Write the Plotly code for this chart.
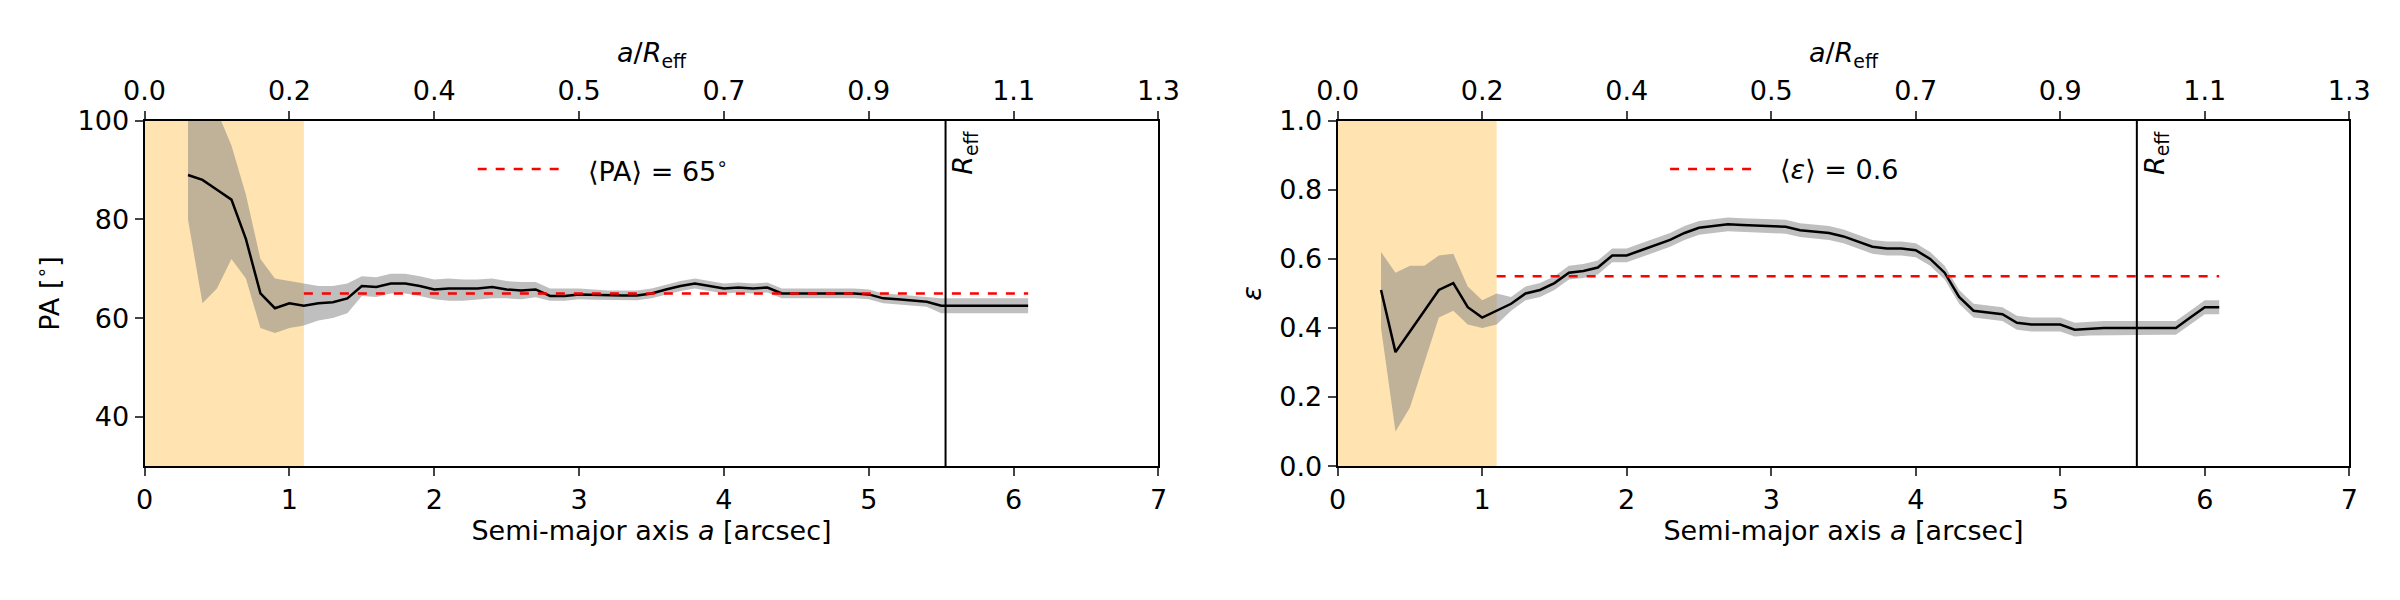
import plotly.graph_objects as go

sma = [round(0.3 + 0.1*i, 1) for i in range(59)]
pa = [89,88,86,84,76,65,62,63,62.5,63,63.2,64,66.5,66.3,67,67,66.5,65.8,66,66,66,66.3,65.8,65.6,65.8,64.5,64.5,64.8,64.7,64.6,64.6,64.6,65,65.8,66.5,67,66.5,66,66.2,66,66.2,65,65,65,65,65,65,64.8,64,63.8,63.5,63.3,62.5,62.5,62.5,62.5,62.5,62.5,62.5]
pa_hi = [101,105,102,95,85,72,68,67.5,67,66.5,66.5,67,68.5,68.3,69,69,68.5,67.8,68,67.8,67.8,68,67.5,67.3,67.3,66,66,66,65.8,65.6,65.6,65.6,66,66.8,67.5,68,67.5,67,67.2,67,67.2,66,66,66,66,66,66,65.8,65,64.8,64.5,64.3,64,64,64,64,64,64,64]
pa_lo = [80,63,66,72,68,58,57,58,58.5,59.5,60,61,64.5,64.3,65,65,64.5,63.8,63.5,63.5,63.8,64,64,63.8,64.2,63.5,63.5,63.8,63.7,63.6,63.6,63.6,64,64.8,65.5,66,65.5,65,65.2,65,65.2,64,64,64,64,64,64,63.8,63,62.8,62.5,62.3,61,61,61,61,61,61,61]
eps = [0.51,0.33,0.39,0.45,0.51,0.53,0.46,0.43,0.45,0.47,0.50,0.51,0.53,0.56,0.565,0.575,0.61,0.61,0.625,0.64,0.655,0.675,0.69,0.695,0.70,0.698,0.697,0.695,0.693,0.683,0.68,0.675,0.665,0.65,0.635,0.63,0.63,0.625,0.60,0.56,0.49,0.45,0.445,0.44,0.415,0.41,0.41,0.41,0.395,0.398,0.40,0.40,0.40,0.40,0.40,0.40,0.43,0.46,0.46]
eps_hi = [0.62,0.56,0.58,0.58,0.61,0.615,0.52,0.48,0.50] + [e+0.02 for e in eps[9:]]
eps_lo = [0.40,0.10,0.17,0.30,0.43,0.45,0.41,0.40,0.41] + [e-0.02 for e in eps[9:]]
r_eff = 5.53
psf_lim = 1.1
pa_mean = 65
eps_mean = 0.55
top_ticks = [0,1,2,3,4,5,6,7]
top_labels = ["0.0","0.2","0.4","0.5","0.7","0.9","1.1","1.3"]

FONT = "DejaVu Sans"
FS = 27
fig = go.Figure()
mean_x = [sma[8], sma[-1]]

def panel(xa, ya, y, hi, lo, mean, mean_label, yr):
    fig.add_trace(go.Scatter(x=sma+sma[::-1], y=hi+lo[::-1], fill="toself", fillcolor="rgba(128,128,128,0.5)",
                             line=dict(width=0), mode="lines", xaxis=xa, yaxis=ya, showlegend=False, hoverinfo="skip"))
    fig.add_trace(go.Scatter(x=sma, y=y, mode="lines", line=dict(color="black", width=2.5), xaxis=xa, yaxis=ya, showlegend=False))
    fig.add_trace(go.Scatter(x=mean_x, y=[mean, mean], mode="lines", line=dict(color="red", width=2.5, dash="dash"),
                             xaxis=xa, yaxis=ya, showlegend=False))
    fig.add_shape(type="rect", x0=0, x1=psf_lim, y0=yr[0], y1=yr[1], xref=xa, yref=ya,
                  fillcolor="rgba(255,190,70,0.42)", line=dict(width=0), layer="below")
    fig.add_shape(type="line", x0=r_eff, x1=r_eff, y0=yr[0], y1=yr[1], xref=xa, yref=ya, line=dict(color="black", width=2))
    fig.add_annotation(x=r_eff, y=yr[1], xref=xa, yref=ya, text="<i>R</i><sub>eff</sub>", textangle=-90, showarrow=False,
                       xanchor="left", yanchor="top", yshift=-8, font=dict(size=FS, family=FONT, color="black"))
    lx = 2.3
    ly = yr[0] + (yr[1]-yr[0])*0.86
    fig.add_shape(type="line", x0=lx, x1=lx+0.6, y0=ly, y1=ly, xref=xa, yref=ya, line=dict(color="red", width=2.5, dash="dash"))
    fig.add_annotation(x=lx+0.75, y=ly, xref=xa, yref=ya, text=mean_label, showarrow=False, xanchor="left",
                       font=dict(size=FS, family=FONT, color="black"))

panel("x", "y", pa, pa_hi, pa_lo, pa_mean, "⟨PA⟩ = 65<sup>∘</sup>", [30, 100])
panel("x2", "y2", eps, eps_hi, eps_lo, eps_mean, "⟨<i>ε</i>⟩ = 0.6", [0, 1])

ax = dict(showline=True, linecolor="black", linewidth=2, mirror=True, ticks="outside", ticklen=8, tickwidth=2,
          showgrid=False, zeroline=False, tickfont=dict(size=FS, family=FONT, color="black"))
d1 = [0.049, 0.479]; d2 = [0.555, 0.984]; yd = [0.223, 0.830]
tf = dict(size=FS, family=FONT, color="black")
fig.update_layout(
    width=2400, height=600, margin=dict(l=0, r=0, t=0, b=0), plot_bgcolor="white", paper_bgcolor="white",
    font=dict(family=FONT, color="black", size=FS),
    xaxis=dict(ax, domain=d1, range=[0, 7], dtick=1, anchor="y",
               title=dict(text="Semi-major axis <i>a</i> [arcsec]", font=tf, standoff=6)),
    yaxis=dict(ax, domain=yd, range=[30, 100], tickvals=[40, 60, 80, 100], anchor="x",
               title=dict(text="PA [<sup>∘</sup>]", font=tf, standoff=10)),
    xaxis2=dict(ax, domain=d2, range=[0, 7], dtick=1, anchor="y2",
                title=dict(text="Semi-major axis <i>a</i> [arcsec]", font=tf, standoff=6)),
    yaxis2=dict(ax, domain=yd, range=[0, 1], tickvals=[0, 0.2, 0.4, 0.6, 0.8, 1.0], tickformat=".1f", anchor="x2",
                title=dict(text="<i>ε</i>", font=tf, standoff=10)),
    xaxis3=dict(ax, overlaying="x", side="top", range=[0, 7], tickvals=top_ticks, ticktext=top_labels, anchor="y",
                title=dict(text="<i>a</i>/<i>R</i><sub>eff</sub>", font=tf, standoff=4), mirror=False),
    xaxis4=dict(ax, overlaying="x2", side="top", range=[0, 7], tickvals=top_ticks, ticktext=top_labels, anchor="y2",
                title=dict(text="<i>a</i>/<i>R</i><sub>eff</sub>", font=tf, standoff=4), mirror=False),
)
fig.add_trace(go.Scatter(x=[None], y=[None], xaxis="x3", yaxis="y", showlegend=False))
fig.add_trace(go.Scatter(x=[None], y=[None], xaxis="x4", yaxis="y2", showlegend=False))
fig.write_html("out.html")
